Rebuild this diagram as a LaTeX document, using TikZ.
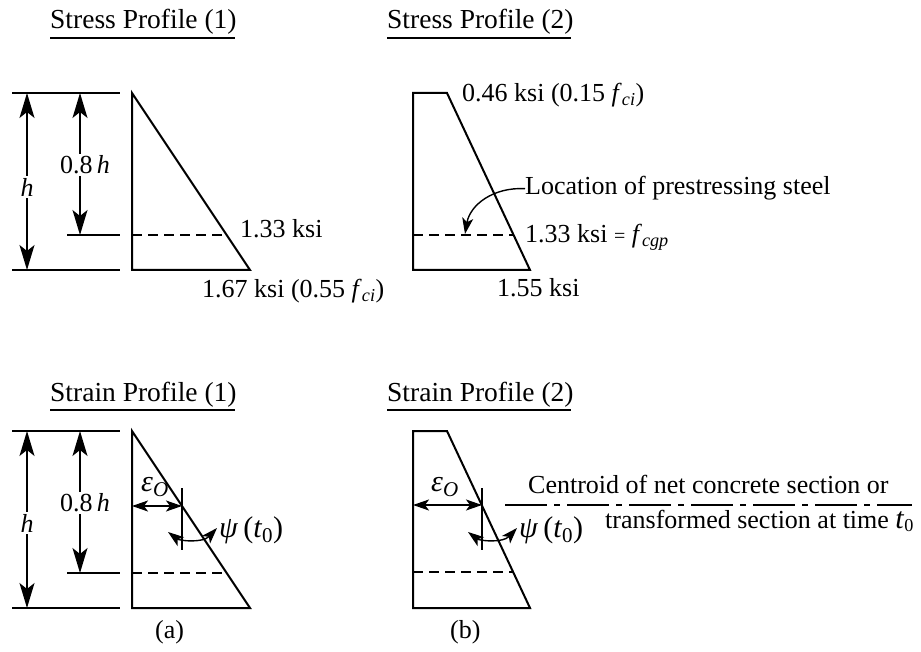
\documentclass[tikz,border=0pt]{standalone}
\usepackage{fontspec}
\setmainfont{Liberation Serif}
\usetikzlibrary{arrows.meta}
\begin{document}
\begin{tikzpicture}[x=1pt,y=-1pt,
  lbl/.style={font=\fontsize{26}{30}\selectfont, inner sep=0pt, anchor=base west},
  glbl/.style={font=\fontsize{30}{34}\selectfont, inner sep=0pt, anchor=base west},
  ttl/.style={font=\fontsize{27.5}{32}\selectfont, inner sep=0pt, anchor=base west},
  gap/.style={font=\fontsize{26}{30}\selectfont, fill=white, inner sep=2pt},
  outline/.style={line width=2pt, line join=miter},
  dimline/.style={line width=1.8pt},
  uline/.style={line width=2.2pt},
  bigtip/.tip={Stealth[length=25pt,width=15pt,inset=6pt]},
  smalltip/.tip={Stealth[length=16pt,width=11pt,inset=4pt]},
  dimarrow/.style={line width=1.4pt, {bigtip}-{bigtip}},
  smallarrow/.style={line width=1.4pt, {smalltip}-{smalltip}},
  hidden/.style={line width=1.8pt, dash pattern=on 10pt off 6pt},
  centroid/.style={line width=1.8pt, dash pattern=on 42pt off 7pt on 6pt off 7pt},
]
\useasboundingbox (0,0) rectangle (921,652);

% ---------- titles ----------
\node[ttl] (t1) at (50,29) {Stress Profile (1)};
\node[ttl] (t2) at (387,29) {Stress Profile (2)};
\node[ttl] (t3) at (50,401) {Strain Profile (1)};
\node[ttl] (t4) at (387,401) {Strain Profile (2)};
\draw[uline] (50,38) -- (235,38);
\draw[uline] (387,38) -- (571,38);
\draw[uline] (50,410) -- (235,410);
\draw[uline] (387,410) -- (571,410);

% ---------- Stress profile (1) ----------
\coordinate (a1) at (132,93);
\coordinate (a2) at (132,270);
\coordinate (a3) at (250,270);
\draw[outline] (a1) -- (a2) -- (a3) -- cycle;
\draw[dimline] (12,93) -- (120,93);
\draw[dimline] (12,270) -- (120,270);
\draw[dimline] (67,235) -- (120,235);
\coordinate (ha1) at (27,93);
\coordinate (ha2) at (27,270);
\coordinate (pa1) at (80,93);
\coordinate (pa2) at (80,235);
\draw[dimarrow] (ha1) -- (ha2);
\draw[dimarrow] (pa1) -- (pa2);
\node[gap] (hA) at (27,187) {\textit{h}};
\node[gap] (pA) at (85,165) {0.8\,\textit{h}};
\draw[hidden] (132,235) -- (226,235);
\node[lbl] (s133a) at (240,238) {1.33 ksi};
\node[lbl] (s167) at (202,298) {1.67 ksi (0.55 \textit{f}\textsubscript{\textit{ci}})};

% ---------- Stress profile (2) ----------
\coordinate (b1) at (413,93);
\coordinate (b2) at (447,93);
\coordinate (b3) at (530,270);
\coordinate (b4) at (413,270);
\draw[outline] (b1) -- (b2) -- (b3) -- (b4) -- cycle;
\draw[hidden] (413,235) -- (513,235);
\node[lbl] (s046) at (462,102) {0.46 ksi (0.15 \textit{f}\textsubscript{\textit{ci}})};
\node[lbl] (loc) at (525,195) {Location of prestressing steel};
\coordinate (steel) at (465,234);
\draw[line width=1.4pt, -{smalltip}] (loc.west) .. controls (493,187) and (470,205) .. (steel);
\node[lbl] (s133b) at (525,243) {1.33 ksi {\fontsize{20}{24}\selectfont =} \textit{f}\textsubscript{\textit{cgp}}};
\node[lbl] (s155) at (497,297) {1.55 ksi};

% ---------- Strain profile (1) ----------
\coordinate (c1) at (132,431);
\coordinate (c2) at (132,608);
\coordinate (c3) at (250,608);
\draw[outline] (c1) -- (c2) -- (c3) -- cycle;
\draw[dimline] (12,431) -- (120,431);
\draw[dimline] (12,608) -- (120,608);
\draw[dimline] (67,573) -- (120,573);
\coordinate (hc1) at (27,431);
\coordinate (hc2) at (27,608);
\coordinate (pc1) at (80,431);
\coordinate (pc2) at (80,573);
\draw[dimarrow] (hc1) -- (hc2);
\draw[dimarrow] (pc1) -- (pc2);
\node[gap] (hC) at (27,523) {\textit{h}};
\node[gap] (pC) at (85,503) {0.8\,\textit{h}};
\draw[hidden] (132,573) -- (227,573);
\coordinate (ec1) at (132,506);
\coordinate (ec2) at (182,506);
\draw[smallarrow] (ec1) -- (ec2);
\draw[line width=1.5pt] (182,488) -- (182,550);
\node[glbl] (epsA) at (141,491) {\textit{ε}\textsubscript{\textit{O}}};
\coordinate (pl1) at (168,532);
\coordinate (pl2) at (217,528);
\draw[smallarrow] (pl1) .. controls (180,541) and (203,543) .. (pl2);
\node[glbl] (psiA) at (219,537) {\textit{ψ}\,(\textit{t}\textsubscript{0})};
\node[lbl] (capA) at (155,638) {(a)};

% ---------- Strain profile (2) ----------
\coordinate (d1) at (413,431);
\coordinate (d2) at (447,431);
\coordinate (d3) at (530,608);
\coordinate (d4) at (413,608);
\draw[outline] (d1) -- (d2) -- (d3) -- (d4) -- cycle;
\draw[hidden] (413,572) -- (513,572);
\coordinate (ed1) at (413,505);
\coordinate (ed2) at (482,505);
\draw[smallarrow] (ed1) -- (ed2);
\draw[line width=1.5pt] (482,488) -- (482,550);
\node[glbl] (epsB) at (431,491) {\textit{ε}\textsubscript{\textit{O}}};
\coordinate (pr1) at (468,532);
\coordinate (pr2) at (517,528);
\draw[smallarrow] (pr1) .. controls (480,541) and (503,543) .. (pr2);
\node[glbl] (psiB) at (519,537) {\textit{ψ}\,(\textit{t}\textsubscript{0})};
\coordinate (cl1) at (505,505);
\coordinate (cl2) at (912,505);
\draw[centroid] (cl1) -- (cl2);
\node[lbl] (cen1) at (528,493) {Centroid of net concrete section or};
\node[lbl] (cen2) at (605,528) {transformed section at time {\fontsize{30}{34}\selectfont\textit{t}}\textsubscript{0}};
\node[lbl] (capB) at (450,638) {(b)};
\end{tikzpicture}
\end{document}
